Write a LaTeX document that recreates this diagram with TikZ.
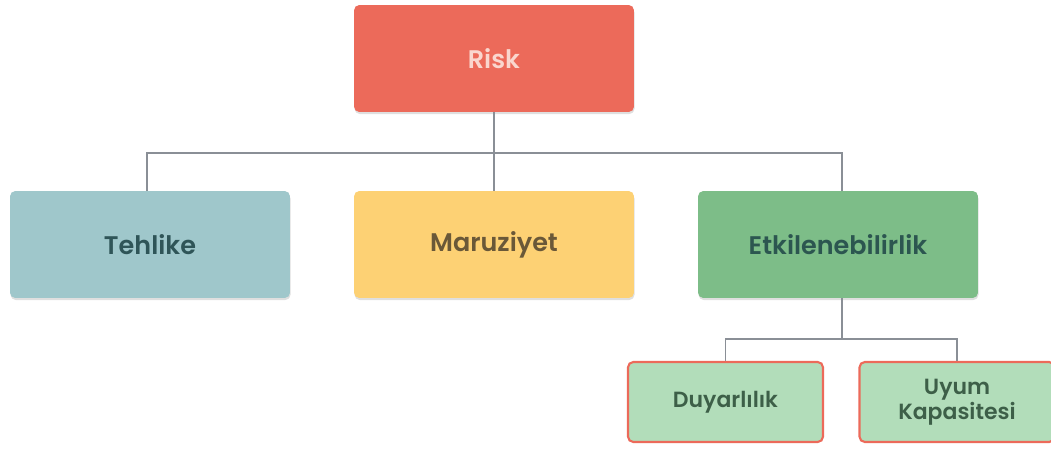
\documentclass[tikz,border=0pt]{standalone}
\usepackage{fontspec}
\setmainfont{Poppins}[BoldFont={Poppins SemiBold}]
\usepackage{tikz}
\usetikzlibrary{positioning,shadows}
\definecolor{riskred}{HTML}{EC6A5A}
\definecolor{risktext}{HTML}{FAD6CE}
\definecolor{hazblue}{HTML}{9FC7CB}
\definecolor{haztext}{HTML}{2F5558}
\definecolor{expyel}{HTML}{FDD174}
\definecolor{exptext}{HTML}{6A5838}
\definecolor{vulgreen}{HTML}{7DBD88}
\definecolor{vultext}{HTML}{2C5650}
\definecolor{subgreen}{HTML}{B2DDBA}
\definecolor{subtext}{HTML}{3D5F48}
\definecolor{linkgray}{HTML}{8A8F96}
\tikzset
{
    mainbox/.style = {rectangle, rounded corners=3pt, align=center, minimum width=5.6cm, minimum height=2.14cm, font=\fontsize{14.5}{17}\selectfont\bfseries, drop shadow={opacity=0.25, shadow xshift=0.3pt, shadow yshift=-1.2pt}},
    subbox/.style  = {rectangle, rounded corners=3pt, align=center, minimum width=3.9cm, minimum height=1.6cm, fill=subgreen, draw=riskred, line width=1.2pt, text=subtext, font=\fontsize{12.5}{14.5}\selectfont\bfseries},
    link/.style    = {draw=linkgray, line width=1.1pt}
}
\begin{document}
\begin{tikzpicture}[x=0.02cm, y=-0.02cm]
\useasboundingbox (0,0) rectangle (1051,449);
\node [mainbox, fill=riskred, text=risktext] at (494,58.5) (risk) {Risk};
\node [mainbox, fill=hazblue, text=haztext] at (150,244.5) (hazard) {Tehlike};
\node [mainbox, fill=expyel, text=exptext] at (494,244.5) (exposure) {Maruziyet};
\node [mainbox, fill=vulgreen, text=vultext] at (838,244.5) (vuln) {Etkilenebilirlik};
\node [subbox] at (725.5,402) (sens) {Duyarlılık};
\node [subbox] at (957,402) (adapt) {Uyum\\Kapasitesi};
\coordinate (top) at (494,153);
\coordinate (low) at (842,339);
\draw [link] (risk.south) -- (top);
\draw [link] (top) -| (hazard.north -| 147,0);
\draw [link] (top) -- (exposure.north);
\draw [link] (top) -| (vuln.north -| 842,0);
\draw [link] (vuln.south -| 842,0) -- (low);
\draw [link] (low) -| (sens.north);
\draw [link] (low) -| (adapt.north);
\end{tikzpicture}
\end{document}
